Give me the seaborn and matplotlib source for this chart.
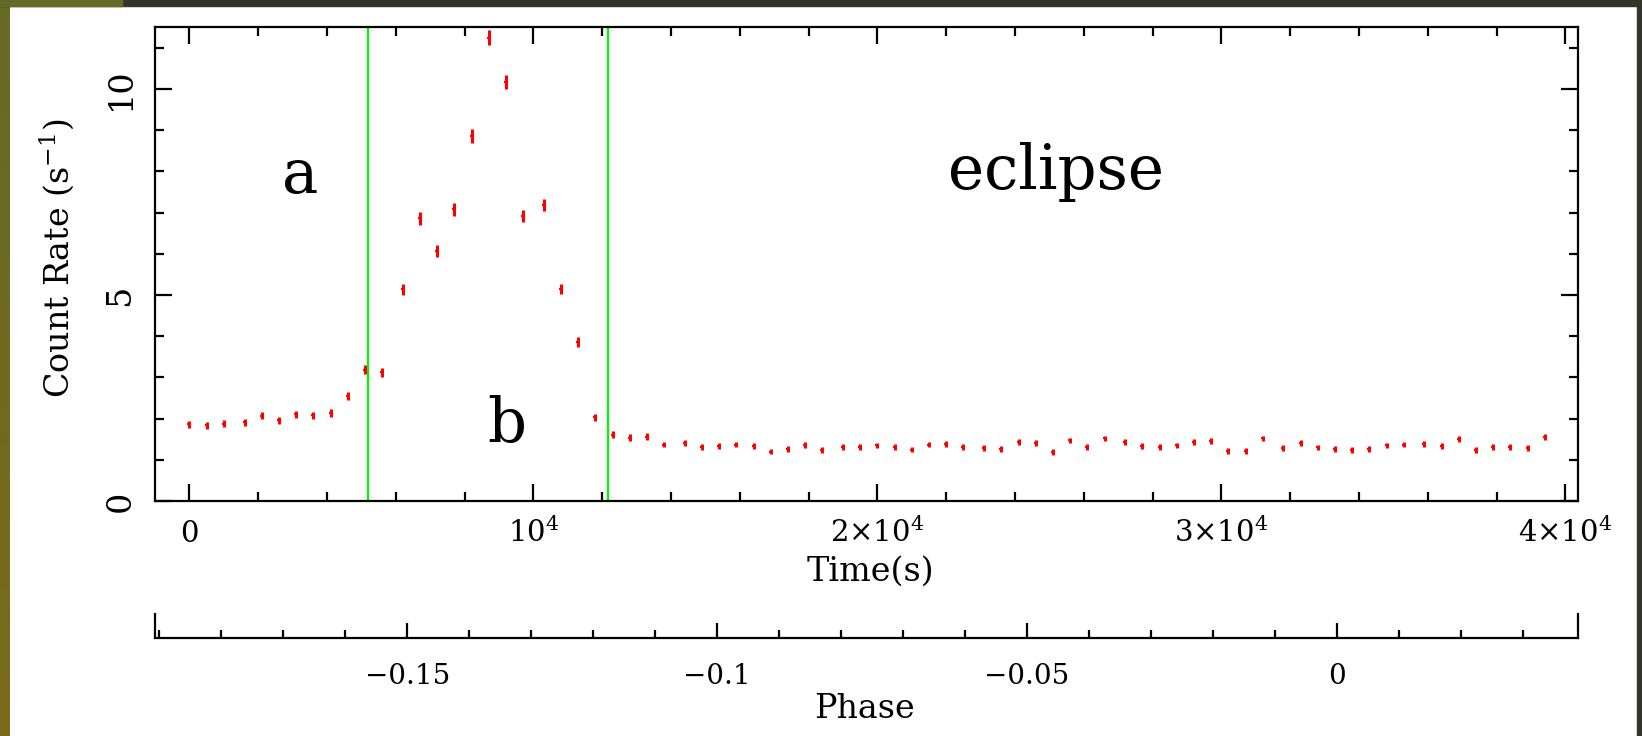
import numpy as np
import matplotlib
matplotlib.use('Agg')
import matplotlib.pyplot as plt
import seaborn as sns
import pandas as pd
from matplotlib.ticker import MultipleLocator, FixedLocator, FixedFormatter
from matplotlib.patches import Rectangle
from matplotlib.colors import LinearSegmentedColormap

# ---------------- data ----------------
time_s = [0, 500, 1000, 1600, 2100, 2600, 3100, 3600, 4100, 4600, 5100, 5600,
          6200, 6700, 7200, 7700, 8200, 8700, 9200, 9700, 10300, 10800, 11300,
          11800, 12300, 12800,
          13300, 13800, 14400, 14900, 15400, 15900, 16400, 16900, 17400, 17900,
          18400, 19000, 19500, 20000, 20500, 21000, 21500, 22000, 22500, 23100,
          23600, 24100, 24600, 25100, 25600, 26100, 26600, 27200, 27700, 28200,
          28700, 29200, 29700, 30200, 30700, 31200, 31800, 32300, 32800, 33300,
          33800, 34300, 34800, 35300, 35900, 36400, 36900, 37400, 37900, 38400,
          38900, 39400]

count_rate = [1.86, 1.84, 1.88, 1.91, 2.07, 1.96, 2.10, 2.08, 2.14, 2.55, 3.19, 3.13,
              5.14, 6.86, 6.07, 7.08, 8.87, 11.25, 10.18, 6.92, 7.19, 5.15, 3.86,
              2.03, 1.61, 1.54,
              1.56, 1.37, 1.40, 1.32, 1.34, 1.37, 1.33, 1.20, 1.27, 1.36,
              1.24, 1.31, 1.31, 1.35, 1.32, 1.25, 1.37, 1.38, 1.31, 1.28,
              1.26, 1.43, 1.40, 1.19, 1.47, 1.31, 1.52, 1.43, 1.34, 1.31,
              1.35, 1.43, 1.45, 1.22, 1.22, 1.52, 1.28, 1.40, 1.30, 1.27,
              1.23, 1.26, 1.35, 1.37, 1.38, 1.34, 1.51, 1.24, 1.31, 1.31,
              1.29, 1.55]

rate_err = [0.08, 0.08, 0.08, 0.08, 0.09, 0.08, 0.09, 0.09, 0.09, 0.10, 0.11, 0.11,
            0.13, 0.15, 0.14, 0.15, 0.17, 0.18, 0.17, 0.15, 0.15, 0.13, 0.12,
            0.09, 0.08, 0.08,
            0.08, 0.07, 0.07, 0.07, 0.07, 0.07, 0.07, 0.07, 0.07, 0.07,
            0.07, 0.07, 0.07, 0.07, 0.07, 0.07, 0.07, 0.07, 0.07, 0.07,
            0.07, 0.07, 0.07, 0.07, 0.07, 0.07, 0.07, 0.07, 0.07, 0.07,
            0.07, 0.07, 0.07, 0.07, 0.07, 0.07, 0.07, 0.07, 0.07, 0.07,
            0.07, 0.07, 0.07, 0.07, 0.07, 0.07, 0.07, 0.07, 0.07, 0.07,
            0.07, 0.08]

boundary_times = [5180, 12175]

x_ticks = [0, 10000, 20000, 30000, 40000]
x_tick_labels = ['$0$', '$10^4$', '$2{\\times}10^4$', '$3{\\times}10^4$', '$4{\\times}10^4$']
y_ticks = [0, 5, 10]
y_tick_labels = ['0', '5', '10']
phase_ticks = [-0.15, -0.1, -0.05, 0.0]
phase_tick_labels = ['\u22120.15', '\u22120.1', '\u22120.05', '0']

region_labels = ['a', 'b', 'eclipse']
region_label_x = [3212, 9230, 25189]
region_label_y = [7.48, 1.43, 7.57]

df = pd.DataFrame({'time': time_s, 'rate': count_rate, 'err': rate_err})

# ---------------- style ----------------
sns.set_style('ticks')
plt.rcParams['font.family'] = ['DejaVu Serif']
plt.rcParams['mathtext.fontset'] = 'dejavuserif'
plt.rcParams['text.color'] = 'black'
plt.rcParams['axes.labelcolor'] = 'black'
plt.rcParams['xtick.color'] = 'black'
plt.rcParams['ytick.color'] = 'black'
plt.rcParams['xtick.labelcolor'] = 'black'
plt.rcParams['ytick.labelcolor'] = 'black'

W, H = 1642, 736
fig = plt.figure(figsize=(W / 100, H / 100), dpi=100)
fig.patch.set_facecolor('white')

L, R, T, B = 154.5, 1577.7, 27.3, 501.0
ax = fig.add_axes([L / W, 1 - B / H, (R - L) / W, (B - T) / H])
ax_ph = fig.add_axes([L / W, 1 - 637.7 / H, (R - L) / W, 24 / H])

# ---------------- main panel ----------------
ax.errorbar(df['time'], df['rate'], yerr=df['err'], fmt='none',
            ecolor='#ff0000', elinewidth=2.2, capsize=0, zorder=3)
sns.scatterplot(data=df, x='time', y='rate', marker='_', s=12, color='#ff0000',
                linewidth=1.6, ax=ax, legend=False, zorder=3)

for bt in boundary_times:
    ax.axvline(bt, color='#11ee11', lw=1.7, zorder=2)

ax.set_xlim(-1017, 40355)
ax.set_ylim(0, 11.5)

ax.xaxis.set_major_locator(FixedLocator(x_ticks))
ax.xaxis.set_major_formatter(FixedFormatter(x_tick_labels))
ax.xaxis.set_minor_locator(MultipleLocator(2000))
ax.yaxis.set_major_locator(FixedLocator(y_ticks))
ax.yaxis.set_major_formatter(FixedFormatter(y_tick_labels))
ax.yaxis.set_minor_locator(MultipleLocator(1))

ax.tick_params(which='both', direction='in', top=True, right=True,
               width=1.6, color='black', labelcolor='black')
ax.tick_params(which='major', length=12)
ax.tick_params(which='minor', length=6.3)
ax.tick_params(axis='x', which='major', labelsize=21, pad=29.3)
ax.tick_params(axis='y', which='major', labelsize=24, pad=13)
for lbl in ax.get_xticklabels():
    lbl.set_va('baseline')
for lbl in ax.get_yticklabels():
    lbl.set_rotation(90)
    lbl.set_va('center')

for sp in ax.spines.values():
    sp.set_visible(True)
    sp.set_linewidth(1.6)
    sp.set_color('black')

ax.set_xlabel('Time(s)', fontsize=24, color='black')
ax.xaxis.set_label_coords(0.5027, -0.150)
ax.xaxis.label.set_va('center')
ax.set_ylabel('Count Rate (s$^{-1}$)', fontsize=24, color='black')
ax.yaxis.set_label_coords(-0.0685, 0.513)
ax.yaxis.label.set_va('center')

for txt, tx, ty in zip(region_labels, region_label_x, region_label_y):
    ax.text(tx, ty, txt, fontsize=44, ha='center', va='baseline', color='black')

# ---------------- phase axis ----------------
ax_ph.set_xlim(-0.1908, 0.0389)
ax_ph.set_ylim(0, 1)
ax_ph.patch.set_alpha(0)
ax_ph.set_yticks([])
ax_ph.xaxis.set_major_locator(FixedLocator(phase_ticks))
ax_ph.xaxis.set_major_formatter(FixedFormatter(phase_tick_labels))
ax_ph.xaxis.set_minor_locator(MultipleLocator(0.01))
ax_ph.tick_params(axis='x', which='both', direction='in', width=1.6,
                  color='black', labelcolor='black')
ax_ph.tick_params(axis='x', which='major', length=11, labelsize=20, pad=18)
ax_ph.tick_params(axis='x', which='minor', length=5.5)
ax_ph.spines['top'].set_visible(False)
for s in ['left', 'right', 'bottom']:
    ax_ph.spines[s].set_visible(True)
    ax_ph.spines[s].set_linewidth(1.6)
    ax_ph.spines[s].set_color('black')
ax_ph.set_xlabel('Phase', fontsize=24, color='black')
ax_ph.xaxis.set_label_coords(0.499, -2.97)
ax_ph.xaxis.label.set_va('center')

# ---------------- frame decoration ----------------
fig.add_artist(Rectangle((0, 1 - 6 / H), 1, 6 / H, transform=fig.transFigure,
                         color='#33352a', zorder=10))
fig.add_artist(Rectangle((0, 1 - 6 / H), 122 / W, 6 / H, transform=fig.transFigure,
                         color='#646a28', zorder=11))
fig.add_artist(Rectangle((1637 / W, 0), 5 / W, 1, transform=fig.transFigure,
                         color='#33352a', zorder=10))
ax_bg = fig.add_axes([0, 0, 10 / W, 1 - 6 / H])
cmap = LinearSegmentedColormap.from_list('olive', ['#7a6a1a', '#666a26'])
ax_bg.imshow(np.linspace(0, 1, 256).reshape(-1, 1), aspect='auto', cmap=cmap,
             origin='lower', extent=[0, 1, 0, 1])
ax_bg.set_axis_off()

fig.savefig('out.png', dpi=100)
